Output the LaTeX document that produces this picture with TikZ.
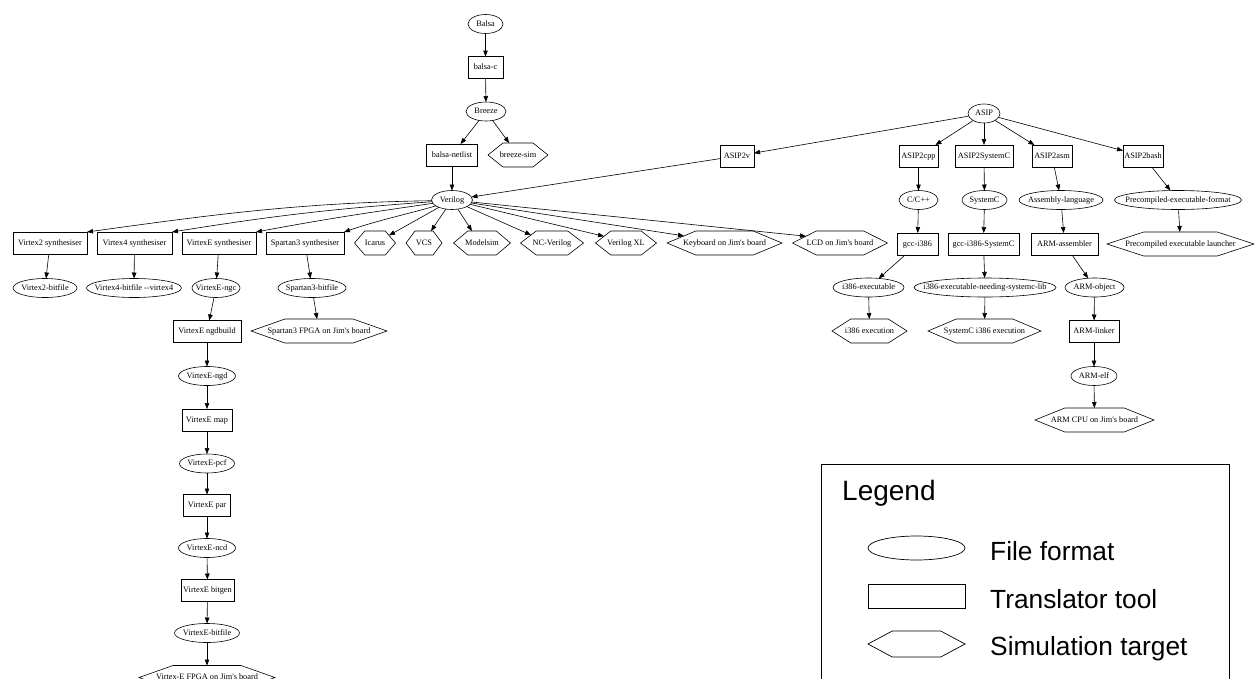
\documentclass[tikz,border=0pt]{standalone}
\usepackage{fontspec}
\setmainfont{Liberation Serif}
\newfontfamily\legendfont{Liberation Sans}
\usetikzlibrary{shapes.geometric,arrows.meta,calc}

\newcommand\apos{\textquotesingle}

\tikzset{
  base/.style={line width=0.6pt, font=\fontsize{8.3}{10}\selectfont,
    text height=6pt, text depth=2pt, outer sep=0pt},
  fileformat/.style={base, ellipse, draw, minimum width=#1, minimum height=19pt,
    inner xsep=-80pt, inner ysep=0pt},
  translator/.style={base, rectangle, draw, minimum width=#1, minimum height=22pt,
    inner sep=0pt},
  target/.style={base, rectangle, minimum width=#1, minimum height=24pt, inner sep=0pt},
  arr/.style={line width=0.6pt, -{Triangle[length=6pt,width=4.5pt]}},
  hexline/.style={line width=0.6pt},
  legendtext/.style={anchor=base west, inner sep=0pt,
    font=\legendfont\fontsize{26.3}{30}\selectfont},
}

\begin{document}
\begin{tikzpicture}[x=1pt,y=-1pt]
\useasboundingbox (0,0) rectangle (1256,678);

% ---------- Balsa chain ----------
\node[fileformat=35] (balsa)   at (485.5,24)  {Balsa};
\node[translator=35] (balsac)  at (485.5,67.5) {balsa-c};
\node[fileformat=40] (breeze)  at (486,111.5) {Breeze};
\node[translator=51] (netlist) at (452,155)   {balsa-netlist};
\node[target=60]     (bsim)    at (518,155)   {breeze-sim};

% ---------- Verilog and its consumers ----------
\node[fileformat=41] (verilog) at (452,200) {Verilog};
\node[translator=74] (v2s) at (50,243)    {Virtex2 synthesiser};
\node[translator=75] (v4s) at (134.5,243) {Virtex4 synthesiser};
\node[translator=74] (ves) at (219,243)   {VirtexE synthesiser};
\node[translator=78] (s3s) at (305,243)   {Spartan3 synthesiser};
\node[target=41]  (icarus)   at (375,243)   {Icarus};
\node[target=36]  (vcs)      at (424,243)   {VCS};
\node[target=57]  (modelsim) at (482,243)   {Modelsim};
\node[target=63]  (ncv)      at (552,243)   {NC-Verilog};
\node[target=61]  (vxl)      at (626,243)   {Verilog XL};
\node[target=115] (kbd)      at (724.5,243) {Keyboard on Jim\apos s board};
\node[target=95]  (lcd)      at (840,243)   {LCD on Jim\apos s board};

\node[fileformat=64] (v2bit) at (45,288)  {Virtex2-bitfile};
\node[fileformat=95] (v4bit) at (134,288) {Virtex4-bitfile {-}{-}virtex4};
\node[fileformat=48] (ngc)   at (216,288) {VirtexE-ngc};
\node[fileformat=68] (s3bit) at (312,288) {Spartan3-bitfile};
\node[target=136]    (s3fpga) at (319,331) {Spartan3 FPGA on Jim\apos s board};

% ---------- VirtexE tool flow ----------
\node[translator=68] (ngdbuild) at (207,331.5) {VirtexE ngdbuild};
\node[fileformat=57] (ngd)      at (207,376)   {VirtexE-ngd};
\node[translator=50] (map)      at (207,420)   {VirtexE map};
\node[fileformat=55] (pcf)      at (207,463.5) {VirtexE-pcf};
\node[translator=47] (par)      at (207,505.5) {VirtexE par};
\node[fileformat=57] (ncd)      at (207,548)   {VirtexE-ncd};
\node[translator=53] (bitgen)   at (207.5,590.5) {VirtexE bitgen};
\node[fileformat=65] (ebit)     at (207,633)   {VirtexE-bitfile};
\node[target=136]    (efpga)    at (207,677.5) {Virtex-E FPGA on Jim\apos s board};

% ---------- ASIP flows ----------
\node[fileformat=32] (asip)      at (984,113.5) {ASIP};
\node[translator=34] (asip2v)    at (737,156)   {ASIP2v};
\node[translator=39] (asip2cpp)  at (918.5,156) {ASIP2cpp};
\node[translator=58] (asip2sc)   at (984,156)   {ASIP2SystemC};
\node[translator=40] (asip2asm)  at (1052,156)  {ASIP2asm};
\node[translator=40] (asip2bash) at (1143,156)  {ASIP2bash};

\node[fileformat=39]  (cpp)  at (918.5,200) {C/C++};
\node[fileformat=45]  (sysc) at (984.5,200) {SystemC};
\node[fileformat=84]  (asm)  at (1061,200)  {Assembly-language};
\node[fileformat=127] (pef)  at (1178,200)  {Precompiled-executable-format};

\node[translator=41] (gcc)    at (917.5,244)  {gcc-i386};
\node[translator=71] (gccsc)  at (983.5,244)  {gcc-i386-SystemC};
\node[translator=67] (armasm) at (1064.5,244) {ARM-assembler};
\node[target=147]    (pel)    at (1180.5,244) {Precompiled executable launcher};

\node[fileformat=71]  (i386exe) at (868.5,287.5) {i386-executable};
\node[fileformat=142] (i386sc)  at (985,287.5)   {i386-executable-needing-systemc-lib};
\node[fileformat=59]  (armobj)  at (1094.5,287.5){ARM-object};

\node[target=75]     (i386run) at (869.5,331)  {i386 execution};
\node[target=113]    (scrun)   at (984.5,331)  {SystemC i386 execution};
\node[translator=50] (armlink) at (1094,331.5) {ARM-linker};
\node[fileformat=46] (armelf)  at (1094,376)   {ARM-elf};
\node[target=119]    (armcpu)  at (1094.5,420) {ARM CPU on Jim\apos s board};

% hexagon outlines of the simulation targets
\foreach \n in {bsim,icarus,vcs,modelsim,ncv,vxl,kbd,lcd,s3fpga,efpga,pel,i386run,scrun,armcpu}
  \draw[hexline] (\n.west) -- ($(\n.north west)!0.25!(\n.north east)$)
    -- ($(\n.north west)!0.75!(\n.north east)$) -- (\n.east)
    -- ($(\n.south west)!0.75!(\n.south east)$)
    -- ($(\n.south west)!0.25!(\n.south east)$) -- cycle;

% ---------- connectors ----------
\draw[arr] (balsa) -- (balsac);
\draw[arr] (balsac) -- (breeze);
\draw[arr] (breeze) -- (netlist);
\draw[arr] (breeze) -- (bsim);
\draw[arr] (netlist) -- (verilog);
\draw[arr] (asip2v) -- (verilog);

\draw[arr] (verilog.182) .. controls +(-130,2) and +(130,-18) .. (v2s.north east);
\draw[arr] (verilog.185) .. controls +(-100,7) and +(100,-16) .. (v4s.north east);
\draw[arr] (verilog.190) .. controls +(-70,10) and +(70,-13) .. (ves.north east);
\draw[arr] (verilog.200) .. controls +(-35,10) and +(35,-12) .. (s3s.north east);

\draw[arr] (verilog) -- ([xshift=14pt,yshift=-4.4pt]icarus.north);
\draw[arr] (verilog) -- ([xshift=7pt]vcs.north);
\draw[arr] (verilog) -- ([xshift=-10pt]modelsim.north);
\draw[arr] (verilog) -- ([xshift=-21pt,yshift=-4pt]ncv.north);
\draw[arr] (verilog) -- ([xshift=-22pt,yshift=-5.3pt]vxl.north);
\draw[arr] (verilog) -- ([xshift=-40.5pt,yshift=-4.9pt]kbd.north);
\draw[arr] (verilog) -- ([xshift=-34pt,yshift=-5.2pt]lcd.north);

\draw[arr] (v2s) -- (v2bit);
\draw[arr] (v4s) -- (v4bit);
\draw[arr] (ves) -- (ngc);
\draw[arr] (s3s) -- (s3bit);
\draw[arr] (s3bit) -- (s3fpga);

\draw[arr] (ngc) -- (ngdbuild);
\draw[arr] (ngdbuild) -- (ngd);
\draw[arr] (ngd) -- (map);
\draw[arr] (map) -- (pcf);
\draw[arr] (pcf) -- (par);
\draw[arr] (par) -- (ncd);
\draw[arr] (ncd) -- (bitgen);
\draw[arr] (bitgen) -- (ebit);
\draw[arr] (ebit) -- (efpga);

\draw[arr] (asip) -- (asip2v);
\draw[arr] (asip) -- (asip2cpp);
\draw[arr] (asip) -- (asip2sc);
\draw[arr] (asip) -- (asip2asm);
\draw[arr] (asip) -- (asip2bash);

\draw[arr] (asip2cpp) -- (cpp);
\draw[arr] (cpp) -- (gcc);
\draw[arr] (gcc) -- (i386exe);
\draw[arr] (i386exe) -- (i386run);

\draw[arr] (asip2sc) -- (sysc);
\draw[arr] (sysc) -- (gccsc);
\draw[arr] (gccsc) -- (i386sc);
\draw[arr] (i386sc) -- (scrun);

\draw[arr] (asip2asm) -- (asm);
\draw[arr] (asm) -- (armasm);
\draw[arr] (armasm) -- (armobj);
\draw[arr] (armobj) -- (armlink);
\draw[arr] (armlink) -- (armelf);
\draw[arr] (armelf) -- (armcpu);

\draw[arr] (asip2bash) -- (pef);
\draw[arr] (pef) -- (pel);

% ---------- legend ----------
\draw[line width=0.8pt] (821,678.5) -- (821,464) -- (1229,464) -- (1229,678.5);
\node[legendtext, font=\legendfont\fontsize{28}{32}\selectfont] (legtitle) at (842,500) {Legend};
\node[ellipse, draw, line width=0.7pt, minimum width=97pt, minimum height=24pt,
      inner sep=0pt] (legell) at (916.5,548) {};
\node[rectangle, draw, line width=0.7pt, minimum width=97pt, minimum height=24pt,
      inner sep=0pt] (legbox) at (916.5,596) {};
\node[rectangle, minimum width=97pt, minimum height=26pt, inner sep=0pt,
      outer sep=0pt] (leghex) at (916.5,644) {};
\draw[line width=0.7pt] (leghex.west) -- ($(leghex.north west)!0.25!(leghex.north east)$)
    -- ($(leghex.north west)!0.75!(leghex.north east)$) -- (leghex.east)
    -- ($(leghex.south west)!0.75!(leghex.south east)$)
    -- ($(leghex.south west)!0.25!(leghex.south east)$) -- cycle;
\node[legendtext] (legfile) at (990,560) {File format};
\node[legendtext] (legtool) at (990,608) {Translator tool};
\node[legendtext] (legsim)  at (990,655) {Simulation target};
\end{tikzpicture}
\end{document}
